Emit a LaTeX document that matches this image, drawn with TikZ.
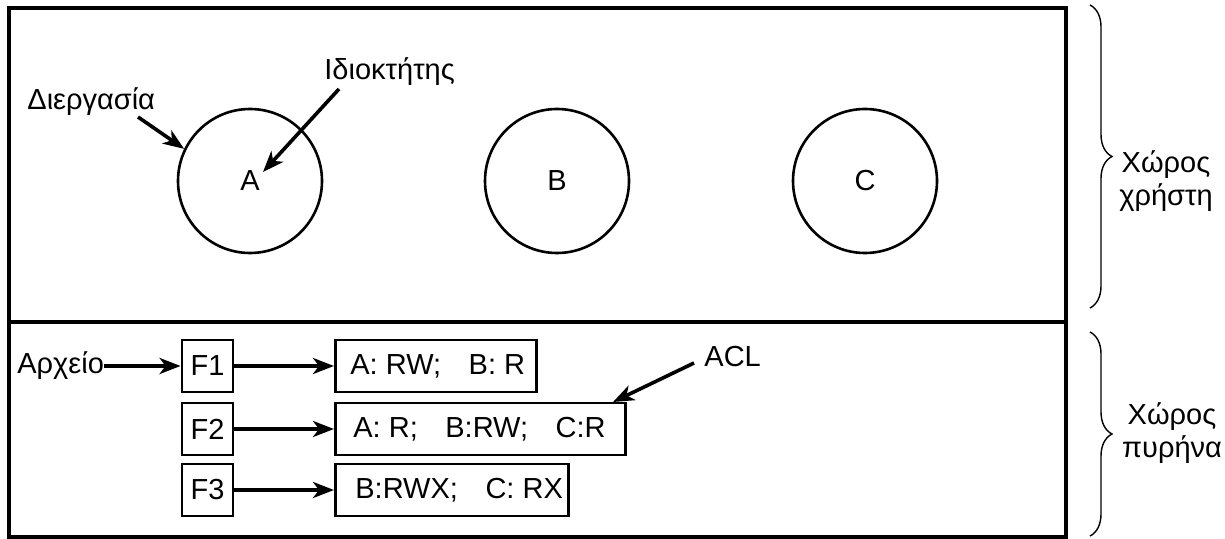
\documentclass[tikz,border=0pt]{standalone}
\usepackage{fontspec}
\setmainfont{Liberation Sans}
\usetikzlibrary{arrows.meta,decorations.pathreplacing}

% a left-aligned line of fixed width, with a small lead-in
\newcommand{\aclrow}[3]{\makebox[#1][l]{\hspace{#2}#3}}

\begin{document}
\begin{tikzpicture}[x=0.5pt,y=-0.5pt,
  every node/.style={font=\fontsize{14.5}{16.5}\selectfont},
  frame/.style={line width=1.6pt},
  proc/.style={circle,draw,line width=1.3pt,minimum size=72pt,inner sep=0pt},
  filebox/.style={draw,line width=1.4pt,minimum width=25.5pt,minimum height=26pt,inner sep=0pt},
  aclbox/.style={draw,line width=1.4pt,minimum height=26pt,anchor=west,inner sep=0pt},
  ptr/.style={-{Stealth[length=10.5pt,width=8pt,inset=3pt]},line width=1.8pt},
  spacebrace/.style={decorate,decoration={brace,amplitude=11pt},line width=0.7pt},
  lbl/.style={inner sep=0pt}
]
\useasboundingbox (0,0) rectangle (1225,539);

% address space frame, split into user and kernel halves
\draw[frame] (9,8) rectangle (1066,537);
\draw[frame] (9,322) -- (1066,322);

% processes in user space
\node[proc] (A) at (250,181) {A};
\node[proc] (B) at (557,181) {B};
\node[proc] (C) at (865,181) {C};

\node[lbl,anchor=west] (proclbl) at (27,102) {Διεργασία};
\coordinate (procfrom) at (138,117);
\draw[ptr] (procfrom) -- (A.154);

\node[lbl,anchor=west] (ownlbl) at (324,72) {Ιδιοκτήτης};
\coordinate (ownfrom) at (339,89);
\coordinate (ownto) at (263,172);
\draw[ptr] (ownfrom) -- (ownto);

% files and their access control lists in kernel space
\node[lbl,anchor=west] (filelbl) at (17,366) {Αρχείο};
\node[filebox] (F1) at (207.5,366) {F1};
\node[filebox] (F2) at (207.5,429) {F2};
\node[filebox] (F3) at (207.5,490) {F3};

\node[aclbox] (L1) at (334,366) {\aclrow{100.5pt}{7.5pt}{A: RW;\hspace{0.95em}B: R}};
\node[aclbox] (L2) at (334,429) {\aclrow{145pt}{9pt}{A: R;\hspace{0.95em}B:RW;\hspace{0.95em}C:R}};
\node[aclbox] (L3) at (334,490) {\aclrow{116.5pt}{10pt}{B:RWX;\hspace{0.95em}C: RX}};

\draw[ptr] (filelbl.east) -- (F1.west);
\draw[ptr] (F1.east) -- (L1.west);
\draw[ptr] (F2.east) -- (L2.west);
\draw[ptr] (F3.east) -- (L3.west);

\node[lbl,anchor=west] (acllbl) at (704,357) {ACL};
\coordinate (aclfrom) at (694,363);
\coordinate (aclto) at (613,402);
\draw[ptr] (aclfrom) -- (aclto);

% braces naming the two halves
\draw[spacebrace] (1090,5) -- (1090,308);
\draw[spacebrace] (1090,332) -- (1090,536);
\node[lbl,align=center] (userspace) at (1166,181) {Χώρος\\χρήστη};
\node[lbl,align=center] (kernelspace) at (1172,433) {Χώρος\\πυρήνα};
\end{tikzpicture}
\end{document}
